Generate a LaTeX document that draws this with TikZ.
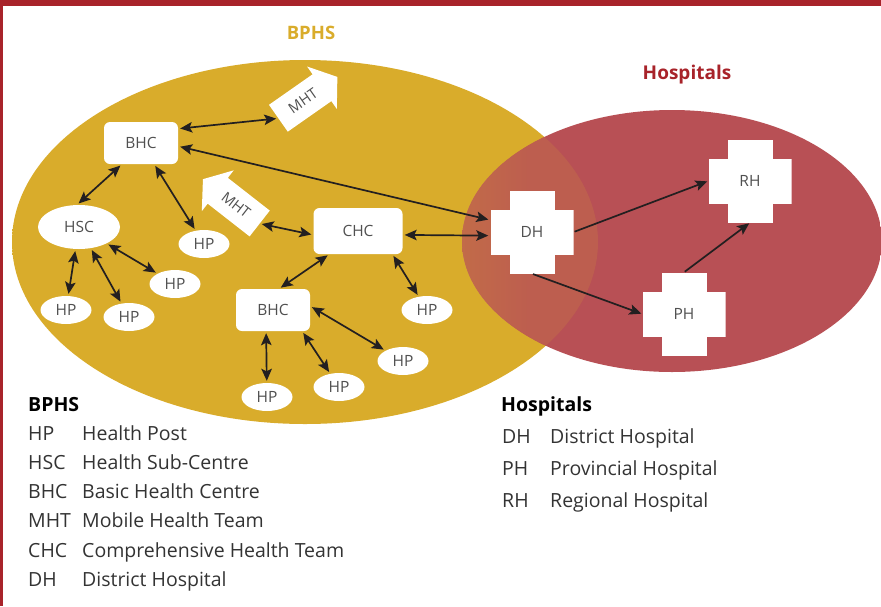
\documentclass[tikz,border=0pt]{standalone}
\usepackage{fontspec}
\setmainfont{Open Sans}
\usetikzlibrary{arrows.meta,shapes.arrows,shapes.geometric}

\definecolor{bphsgold}{HTML}{D9AC2B}
\definecolor{hospred}{HTML}{B85055}
\definecolor{barred}{HTML}{A8232A}
\definecolor{labelgrey}{HTML}{505050}
\definecolor{keygrey}{HTML}{333333}
\definecolor{linkc}{HTML}{231F20}

% shadings for the two overlapping areas
\pgfdeclarehorizontalshading{goldshade}{100bp}{color(0bp)=(bphsgold); color(81bp)=(bphsgold); color(100bp)=(bphsgold!55!white)}
\pgfdeclarehorizontalshading{redshade}{100bp}{color(0bp)=(hospred!45!white); color(19bp)=(hospred!72!white); color(33bp)=(hospred); color(100bp)=(hospred)}
\pgfdeclarehorizontalshading{overlapshade}{100bp}{color(0bp)=(hospred!35!bphsgold); color(8bp)=(hospred!40!bphsgold); color(33bp)=(hospred!85!bphsgold); color(100bp)=(hospred!85!bphsgold)}

\begin{document}
\begin{tikzpicture}[x=1pt,y=-1pt,
    nodefont/.style={text=labelgrey,font=\fontsize{15.5}{15.5}\selectfont},
    hp/.style={ellipse,fill=white,minimum width=51pt,minimum height=28pt,inner sep=0pt,nodefont},
    hscbox/.style={ellipse,fill=white,minimum width=82pt,minimum height=44pt,inner sep=0pt,nodefont},
    hcbox/.style={rectangle,rounded corners=6pt,fill=white,minimum width=74pt,minimum height=42pt,inner sep=0pt,nodefont},
    chcbox/.style={hcbox,minimum width=89pt,minimum height=46pt},
    mht/.style={single arrow,fill=white,inner xsep=2pt,inner ysep=11pt,minimum height=72pt,minimum width=0pt,
        single arrow head extend=9.5pt,single arrow tip angle=108,text=labelgrey,font=\fontsize{14.5}{14.5}\selectfont},
    crossbox/.style={rectangle,minimum size=83pt,inner sep=0pt,nodefont,
        path picture={
            \fill[white] ([xshift=-41.5pt,yshift=-22.5pt]path picture bounding box.center) rectangle ([xshift=41.5pt,yshift=22.5pt]path picture bounding box.center);
            \fill[white] ([xshift=-22.5pt,yshift=-41.5pt]path picture bounding box.center) rectangle ([xshift=22.5pt,yshift=41.5pt]path picture bounding box.center);}},
    tipe/.tip={Stealth[length=12pt,width=10.5pt,inset=2.5pt]},
    twoway/.style={draw=linkc,line width=1.7pt,tipe-tipe,shorten <=2pt,shorten >=2pt},
    oneway/.style={draw=linkc,line width=1.7pt,-tipe,shorten <=1pt,shorten >=1pt},
    keyab/.style={anchor=base west,text=keygrey,font=\fontsize{19.5}{19.5}\selectfont,inner sep=0pt},
    keytxt/.style={keyab},
    keyhead/.style={anchor=base west,font=\bfseries\fontsize{19.5}{20}\selectfont,inner sep=0pt}]
    \useasboundingbox (0,0) rectangle (881,606);

    % frame
    \fill[barred] (0,0) rectangle (881,6);
    \fill[barred] (0,0) rectangle (2.5,606);

    % the two areas and where they overlap
    \path[shading=goldshade] (305,242) ellipse [x radius=293,y radius=182];
    \path[shading=redshade] (672,241) ellipse [x radius=210,y radius=131];
    \begin{scope}
        \clip (305,242) ellipse [x radius=293,y radius=182];
        \path[shading=overlapshade] (672,241) ellipse [x radius=210,y radius=131];
    \end{scope}

    \node[font=\bfseries\fontsize{18.5}{18.5}\selectfont,text=bphsgold] (bphstitle) at (311,33) {BPHS};
    \node[font=\bfseries\fontsize{19}{19}\selectfont,text=barred] (hosptitle) at (687,75) {Hospitals};

    % BPHS facilities
    \node[hcbox] (BHCa) at (141,143) {BHC};
    \node[hscbox] (HSC) at (79,227) {HSC};
    \node[hp] (HPa) at (66,310) {HP};
    \node[hp] (HPb) at (129,317) {HP};
    \node[hp] (HPc) at (175,284) {HP};
    \node[hp] (HPd) at (204,244) {HP};
    \node[chcbox] (CHC) at (358,231) {CHC};
    \node[hcbox] (BHCb) at (273,310) {BHC};
    \node[hp] (HPe) at (427,310) {HP};
    \node[hp] (HPf) at (403,361) {HP};
    \node[hp] (HPg) at (339,387) {HP};
    \node[hp] (HPh) at (267,397) {HP};
    \node[mht,rotate=35] (MHTa) at (303,101) {MHT};
    \node[mht,rotate=-38,shape border rotate=180] (MHTb) at (236,205) {MHT};

    % hospitals
    \node[crossbox] (DH) at (532,232) {DH};
    \node[crossbox] (RH) at (750,181) {RH};
    \node[crossbox] (PH) at (684,314) {PH};

    % links
    \draw[twoway] (BHCa.21) -- (MHTa.tail);
    \draw[twoway] (BHCa.-5) -- (DH.164);
    \draw[twoway] (BHCa.228) -- (HSC.95);
    \draw[twoway] (BHCa) -- (HPd);
    \draw[twoway] (HSC) -- (HPa);
    \draw[twoway] (HSC) -- (HPb);
    \draw[twoway] (HSC) -- (HPc);
    \draw[twoway] (MHTb.tail) -- (CHC.185);
    \draw[twoway] (CHC.-5) -- (DH.185);
    \draw[twoway] (CHC.219) -- (BHCb.74);
    \draw[twoway] (CHC.-34) -- (HPe);
    \draw[twoway] (BHCb.6) -- (HPf);
    \draw[twoway] (BHCb.-36) -- (HPg);
    \draw[twoway] (BHCb.252) -- (HPh);
    \draw[oneway] (DH.east) -- (RH.west);
    \draw[oneway] (DH.south) -- (PH.west);
    \draw[oneway] (PH.north) -- (RH.south);

    % keys
    \node[keyhead] (bphskey) at (28,411) {BPHS};
    \foreach \ab/\full [count=\i] in {HP/Health Post,HSC/Health Sub-Centre,BHC/Basic Health Centre,
        MHT/Mobile Health Team,CHC/Comprehensive Health Team,DH/District Hospital}{
        \node[keyab] (bab\i) at (28,411+29.2*\i) {\ab};
        \node[keytxt] (btx\i) at (82,411+29.2*\i) {\full};
    }
    \node[keyhead] (hospkey) at (501,411) {Hospitals};
    \foreach \ab/\full [count=\i] in {DH/District Hospital,PH/Provincial Hospital,RH/Regional Hospital}{
        \node[keyab] (hab\i) at (502,411+32*\i) {\ab};
        \node[keytxt] (htx\i) at (550,411+32*\i) {\full};
    }
\end{tikzpicture}
\end{document}
